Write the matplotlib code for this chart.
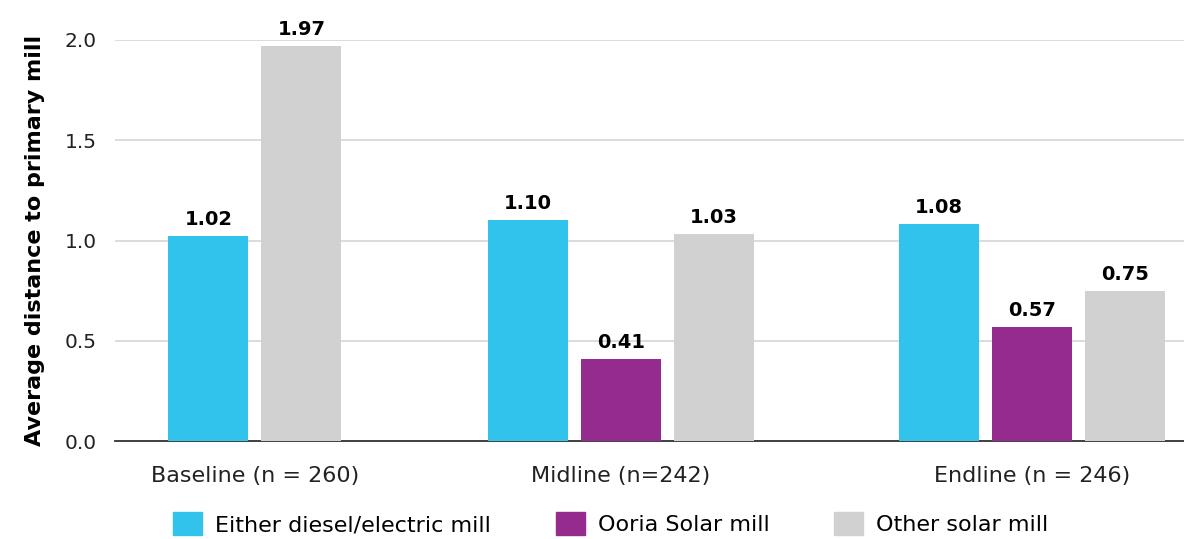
import matplotlib
matplotlib.use("Agg")
import matplotlib.pyplot as plt
from matplotlib.patches import Patch

plt.rcParams['font.family'] = ['DejaVu Sans']

groups = ['Baseline (n = 260)', 'Midline (n=242)', 'Endline (n = 246)']
series = ['Either diesel/electric mill', 'Ooria Solar mill', 'Other solar mill']
colors = ['#31C3EB', '#952B8D', '#D0D1D0']
# None = no bar for that group
values = {
    'Either diesel/electric mill': [1.02, 1.10, 1.08],
    'Ooria Solar mill': [None, 0.41, 0.57],
    'Other solar mill': [1.97, 1.03, 0.75],
}

group_pos = [0, 3.935, 8.355]
width = 0.86

fig = plt.figure(figsize=(11.84, 5.39), dpi=100)
ax = fig.add_axes([0.0971, 0.1818, 0.9029, 0.744])

for gi, g in enumerate(groups):
    present = [s for s in series if values[s][gi] is not None]
    n = len(present)
    for k, s in enumerate(present):
        x = group_pos[gi] + (k - (n - 1) / 2)
        v = values[s][gi]
        ax.bar(x, v, width=width, color=colors[series.index(s)], zorder=3)
        ax.text(x, v + 0.035, '%.2f' % v, ha='center', va='bottom',
                fontsize=14, fontweight='bold', clip_on=False)

ax.set_xlim(-1.505, 9.99)
ax.set_ylim(0, 2.0)
ax.set_yticks([0, 0.5, 1.0, 1.5, 2.0])
ax.set_yticklabels(['0.0', '0.5', '1.0', '1.5', '2.0'])
ax.set_xticks(group_pos)
ax.set_xticklabels(groups)
ax.tick_params(axis='both', length=0, colors='#222222')
ax.tick_params(axis='x', pad=18, labelsize=16)
ax.tick_params(axis='y', pad=13, labelsize=14.5)
ax.grid(axis='y', color='#d9d9d9', linewidth=1.3, zorder=0)
for sp in ['top', 'right', 'left']:
    ax.spines[sp].set_visible(False)
ax.spines['bottom'].set_color('#333333')
ax.spines['bottom'].set_linewidth(1.3)
ax.set_ylabel('Average distance to primary mill', fontsize=16, fontweight='bold', labelpad=14)

handles = [Patch(color=c) for c in colors]
fig.legend(handles, series, loc='center', bbox_to_anchor=(0.516, 0.028), ncol=3,
           frameon=False, fontsize=16, handlelength=1.3, handleheight=1.2,
           handletextpad=0.6, columnspacing=2.9)

fig.savefig('out.png', dpi=100)
